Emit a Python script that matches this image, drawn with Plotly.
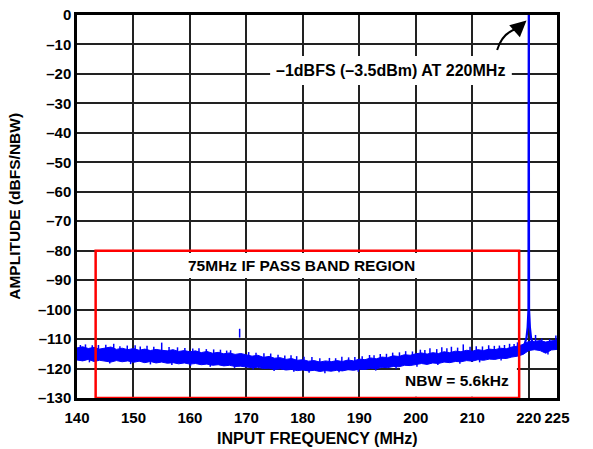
import plotly.graph_objects as go

# ---- data ----
env_freq = list(range(140, 226))
env_upper = [-113.0, -112.6, -113.2, -112.8, -113.4, -113.0, -112.7, -113.5, -113.1, -113.6,
             -113.2, -113.8, -113.4, -113.9, -113.5, -113.8, -114.0, -113.6, -114.2, -113.9,
             -114.3, -114.0, -114.6, -114.2, -114.8, -114.5, -115.0, -114.7, -115.2, -114.9,
             -115.4, -115.8, -115.5, -116.2, -115.9, -116.5, -116.3, -116.9, -116.6, -117.2,
             -117.0, -117.5, -117.3, -117.8, -117.4, -117.7, -117.3, -117.6, -117.1, -117.4,
             -116.8, -117.0, -116.4, -116.7, -116.1, -116.3, -115.7, -115.9, -115.3, -115.5,
             -115.0, -114.7, -115.1, -114.6, -114.9, -114.3, -114.6, -114.1, -114.3, -113.8,
             -114.1, -113.6, -113.9, -113.4, -113.6, -113.1, -113.3, -112.7, -112.4, -111.8,
             -110.8, -110.8, -110.5, -111.0, -110.6, -110.4]
env_lower = [-117.1, -117.4, -116.9, -117.6, -117.2, -117.5, -117.8, -117.3, -117.7, -117.4,
             -117.9, -117.5, -118.0, -117.6, -118.1, -117.8, -118.2, -118.0, -118.4, -118.1,
             -118.5, -118.3, -118.7, -118.5, -118.9, -118.7, -119.1, -118.9, -119.3, -119.2,
             -119.5, -119.7, -119.6, -120.0, -119.9, -120.3, -120.1, -120.5, -120.3, -120.7,
             -120.5, -120.8, -120.6, -121.0, -120.7, -120.9, -120.6, -120.8, -120.4, -120.6,
             -120.2, -120.3, -119.9, -120.1, -119.6, -119.7, -119.3, -119.4, -118.9, -119.0,
             -118.6, -118.3, -118.6, -118.1, -118.3, -117.8, -118.0, -117.6, -117.7, -117.3,
             -117.5, -117.0, -117.2, -116.8, -116.9, -116.5, -116.6, -116.1, -115.8, -115.2,
             -113.9, -113.6, -113.9, -114.8, -113.7, -113.5]
spur_freq = [140.6, 141.5, 142.7, 143.8, 145.1, 146.5, 147.6, 148.9, 150.3, 151.2,
             152.4, 153.6, 155.0, 156.3, 157.8, 159.1, 160.5, 161.6, 162.9, 164.2,
             165.4, 166.5, 167.2, 168.8, 170.4, 171.7, 173.1, 174.3, 175.6, 176.8,
             177.9, 178.9, 180.2, 181.6, 183.0, 184.7, 185.8, 186.9, 188.1, 189.2,
             190.5, 191.8, 192.6, 193.7, 194.8, 195.9, 197.1, 198.2, 199.4, 200.8,
             201.6, 202.5, 203.7, 204.6, 205.5, 206.3, 207.4, 208.4, 209.6, 210.7,
             211.8, 212.9, 213.9, 214.8, 215.7, 216.6, 217.4, 218.0, 221.2, 222.3,
             223.7, 224.8]
spur_level = [-112.0, -111.8, -112.1, -112.0, -111.9, -111.6, -112.4, -112.2, -112.1, -112.5,
              -112.3, -112.6, -111.2, -112.7, -112.8, -113.0, -113.2, -113.1, -113.4, -113.5,
              -113.6, -113.9, -113.8, -106.5, -114.4, -114.6, -114.8, -114.9, -115.3, -115.6,
              -115.5, -115.8, -116.0, -116.1, -116.5, -116.4, -116.5, -116.0, -116.2, -116.1,
              -115.8, -115.4, -115.5, -115.1, -115.0, -114.6, -114.5, -114.1, -114.2, -113.6,
              -113.7, -113.1, -113.4, -112.8, -113.1, -112.6, -112.9, -111.8, -112.6, -112.4,
              -112.5, -112.1, -112.3, -112.2, -112.0, -111.6, -111.7, -111.1, -108.6, -109.8,
              -110.0, -108.8]
dip_freq = [142.2, 145.8, 149.5, 153.0, 156.8, 160.1, 163.6, 167.9, 171.2, 174.9,
            178.4, 181.1, 183.9, 186.4, 189.8, 192.9, 196.5, 200.2, 203.9, 207.8,
            211.3, 215.1, 223.4]
dip_level = [-117.9, -118.3, -118.5, -118.6, -118.8, -119.1, -119.4, -119.8, -120.3, -120.8,
             -121.1, -121.4, -121.6, -121.3, -121.1, -120.7, -120.1, -119.4, -118.8, -118.4,
             -117.9, -117.3, -115.2]
carrier_freq = [218.8, 219.3, 219.6, 219.8, 219.95, 220.0, 220.05, 220.2, 220.4, 220.7, 221.2]
carrier_level = [-113.0, -111.5, -109.5, -106.0, -100.0, 0.0, -100.0, -106.0, -109.5, -111.5, -113.0]

x_ticks = [140, 150, 160, 170, 180, 190, 200, 210, 220, 225]
y_ticks = list(range(0, -131, -10))
y_ticktext = ["0"] + ["\u2013" + str(-v) for v in y_ticks[1:]]

BLUE = "#0000ff"
FONT = "Arial, Liberation Sans, sans-serif"

fig = go.Figure()

# noise floor band
fig.add_trace(go.Scatter(
    x=env_freq + env_freq[::-1], y=env_upper + env_lower[::-1],
    fill="toself", fillcolor=BLUE, mode="lines",
    line=dict(color=BLUE, width=1), hoverinfo="skip", showlegend=False))

# noise spikes up and down
sx, sy = [], []
for f, l in zip(spur_freq, spur_level):
    sx += [f, f, None]
    sy += [l, l - 3.0, None]
for f, l in zip(dip_freq, dip_level):
    sx += [f, f, None]
    sy += [l, l + 3.0, None]
fig.add_trace(go.Scatter(x=sx, y=sy, mode="lines", line=dict(color=BLUE, width=1.5),
                         hoverinfo="skip", showlegend=False))

# carrier
fig.add_trace(go.Scatter(x=carrier_freq, y=carrier_level, mode="lines",
                         line=dict(color=BLUE, width=2.2), showlegend=False))

# white text backgrounds (hide grid only)
for x0, x1, y0, y1 in [(174.2, 217.0, -23.8, -13.9),
                       (157.9, 201.4, -89.3, -80.8),
                       (197.2, 217.9, -129.6, -117.8)]:
    fig.add_shape(type="rect", xref="x", yref="y", x0=x0, x1=x1, y0=y0, y1=y1,
                  fillcolor="white", line=dict(width=0), layer="between")

# red pass band rectangle
fig.add_shape(type="rect", xref="x", yref="y", x0=143.3, x1=218.3, y0=-130, y1=-80,
              line=dict(color="#ff0000", width=2.5), fillcolor="rgba(0,0,0,0)", layer="above")

# curved arrow tail
fig.add_shape(type="path", xref="x", yref="y",
              path="M 214.4,-11.9 Q 215.4,-5.6 218.2,-4.6",
              line=dict(color="black", width=2), layer="above")

fig.add_annotation(x=219.6, y=-1.9, ax=217.9, ay=-4.8, axref="x", ayref="y",
                   xref="x", yref="y", showarrow=True, arrowhead=2, arrowsize=1.6,
                   arrowwidth=2, arrowcolor="black", text="")

tfont = dict(family=FONT, size=15.5, color="black", weight=700)
fig.add_annotation(x=195.6, y=-19.0, xref="x", yref="y", showarrow=False,
                   text="\u20131dBFS (\u20133.5dBm) AT 220MHz",
                   font=dict(family=FONT, size=16, color="black", weight=700))
fig.add_annotation(x=179.8, y=-85.0, xref="x", yref="y", showarrow=False,
                   text="75MHz IF PASS BAND REGION", font=tfont)
fig.add_annotation(x=207.3, y=-124.2, xref="x", yref="y", showarrow=False,
                   text="NBW = 5.6kHz", font=tfont)

fig.add_annotation(x=0.5, y=-0.106, xref="paper", yref="paper", showarrow=False,
                   xanchor="center", yanchor="middle",
                   text="INPUT FREQUENCY (MHz)",
                   font=dict(family=FONT, size=16, color="black", weight=700))
fig.add_annotation(x=-0.132, y=0.501, xref="paper", yref="paper", showarrow=False,
                   xanchor="center", yanchor="middle",
                   text="AMPLITUDE (dBFS/NBW)", textangle=-90,
                   font=dict(family=FONT, size=15.5, color="black", weight=700))

tick_font = dict(family=FONT, size=15, color="black", weight=700)
fig.update_xaxes(range=[140, 225], tickvals=x_ticks,
                 ticktext=[str(v) for v in x_ticks],
                 showgrid=True, gridcolor="#222222", gridwidth=1.5, zeroline=False,
                 showline=True, linecolor="black", linewidth=2.5, mirror=True,
                 ticks="outside", ticklen=4, tickcolor="rgba(0,0,0,0)",
                 tickfont=tick_font, automargin=False, ticklabeloverflow="allow")
fig.update_yaxes(range=[-130, 0], tickvals=y_ticks, ticktext=y_ticktext,
                 showgrid=True, gridcolor="#222222", gridwidth=1.5, zeroline=False,
                 showline=True, linecolor="black", linewidth=2.5, mirror=True,
                 ticks="", tickfont=tick_font, automargin=False,
                 ticklabeloverflow="allow")

fig.update_layout(width=593, height=449, margin=dict(l=77, r=36, t=15, b=51),
                  plot_bgcolor="white", paper_bgcolor="white", showlegend=False)

fig.write_html("out.html", config={"displayModeBar": False},
               post_script="document.body.style.margin='0';document.body.style.overflow='hidden';")
